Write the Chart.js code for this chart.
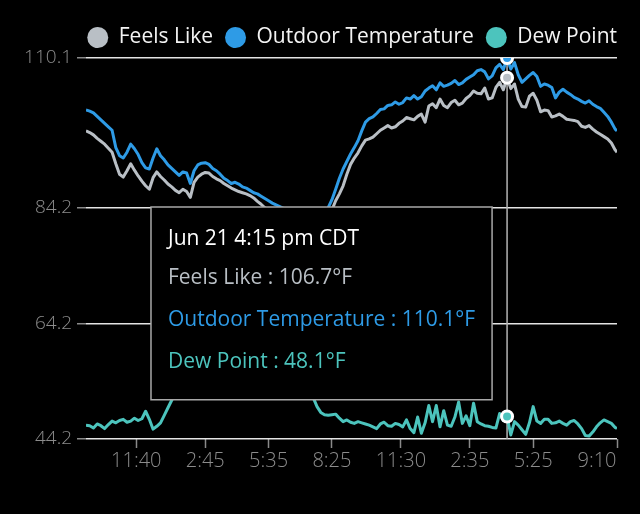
<!DOCTYPE html>
<html>
<head>
<meta charset="utf-8">
<script src="https://cdn.jsdelivr.net/npm/chart.js@4.4.0/dist/chart.umd.min.js"></script>
<style>
    html, body { margin: 0; padding: 0; background: #000; }
    #wrap { width: 640px; height: 514px; position: relative; background: #000; }
</style>
</head>
<body>
<div id="wrap"><canvas id="weatherChart"></canvas></div>
<script>
// minutes since Jun 20 9:25 pm CDT, sampled every 10 min, last sample at 9:10 pm
const startClock = 21 * 60 + 25;
const times = [];
for (let i = 0; i <= 142; i++) times.push(i * 10);
times.push(1425);

const seriesNames = ["Feels Like", "Outdoor Temperature", "Dew Point"];
const seriesColors = ["#b9bfc5", "#2e9be6", "#4cc4bd"];

const feelsLike = [
    97.5, 97.2, 96.8, 96.2, 95.7, 95.2,
    94.5, 93.8, 91.8, 90.0, 89.5, 90.6,
    91.8, 90.7, 89.7, 88.8, 88.0, 87.4,
    89.4, 90.4, 89.6, 89.0, 88.3, 87.8,
    87.2, 86.8, 87.4, 87.0, 86.0, 88.6,
    89.5, 90.0, 90.3, 90.2, 89.6, 89.2,
    88.9, 88.4, 88.0, 87.6, 87.3, 87.0,
    86.8, 86.6, 86.3, 85.9, 85.3, 84.8,
    84.2, 83.8, 83.4, 83.0, 82.6, 82.2,
    81.7, 81.2, 80.7, 80.2, 79.7, 79.2,
    79.0, 79.1, 79.6, 80.6, 81.8, 83.0,
    83.8, 85.4, 86.6, 88.0, 90.0, 91.7,
    92.8, 93.7, 94.9, 95.9, 96.1, 96.4,
    97.0, 97.6, 98.0, 98.4, 98.0, 98.2,
    98.8, 99.2, 99.8, 99.6, 99.4, 100.0,
    100.4, 99.0, 101.8, 102.2, 101.5, 103.0,
    101.9, 101.5, 102.4, 102.8, 102.0, 102.3,
    103.1, 103.6, 104.4, 104.0, 103.9, 104.9,
    103.0, 103.2, 105.0, 105.9, 104.6, 106.7,
    104.8, 105.6, 103.0, 101.7, 101.6, 103.5,
    104.0, 102.8, 100.8, 101.1, 101.0, 99.9,
    100.1, 100.4, 100.0, 99.5, 99.4, 99.3,
    99.1, 98.3, 98.1, 98.4, 97.8, 97.3,
    96.9, 96.5, 96.1, 95.4, 94.2, 93.8
];

const outdoorTemp = [
    101.1, 100.9, 100.6, 100.0, 99.4, 98.8,
    98.2, 97.6, 94.6, 93.2, 92.8, 93.8,
    95.2, 94.4, 93.4, 92.0, 91.1, 90.9,
    92.8, 94.4, 93.2, 92.5, 91.6, 91.0,
    90.4, 89.8, 90.4, 90.2, 88.4, 90.6,
    91.6, 91.9, 92.0, 91.7, 91.0, 90.6,
    90.0, 89.3, 88.9, 88.4, 88.6, 88.3,
    87.8, 87.6, 87.2, 86.8, 86.6, 86.2,
    85.8, 85.4, 85.0, 84.7, 84.4, 84.1,
    83.6, 83.0, 82.4, 81.8, 81.2, 80.6,
    80.3, 80.4, 81.0, 82.0, 83.2, 84.2,
    85.6, 87.4, 89.3, 90.9, 92.2, 93.5,
    94.6, 95.8, 97.5, 99.0, 99.6, 99.9,
    100.5, 101.2, 101.3, 101.9, 102.0, 102.5,
    102.1, 102.4, 103.2, 103.0, 103.6, 103.0,
    103.4, 104.4, 104.9, 105.3, 104.6, 105.8,
    105.2, 105.4, 105.7, 106.2, 105.5, 105.8,
    106.4, 106.8, 107.2, 107.9, 108.1, 107.7,
    106.5, 107.0, 108.4, 109.0, 108.1, 110.1,
    108.2, 109.3, 107.2, 105.9, 106.5, 107.1,
    107.6, 106.9, 105.2, 105.6, 105.4, 105.0,
    103.2, 104.2, 104.7, 104.2, 103.8, 103.3,
    103.0, 102.6, 102.3, 102.7, 102.1, 101.7,
    101.4, 100.7, 100.0, 99.0, 97.8, 97.5
];

const dewPoint = [
    46.6, 46.5, 46.1, 46.8, 46.5, 46.0,
    46.7, 47.3, 47.0, 47.4, 47.6, 47.1,
    47.3, 47.8, 47.4, 47.7, 49.0, 47.6,
    45.9, 46.4, 47.0, 48.3, 49.6, 50.9,
    52.2, 53.4, 54.3, 55.0, 55.5, 55.8,
    56.0, 55.8, 55.5, 55.9, 56.2, 55.7,
    55.2, 54.8, 54.4, 54.0, 53.6, 53.2,
    52.8, 52.5, 52.1, 51.8, 51.6, 51.5,
    52.0, 51.8, 51.9, 51.7, 51.8, 51.9,
    52.0, 52.2, 52.4, 52.3, 52.0, 51.8,
    51.6, 51.3, 49.8, 48.8, 48.4, 48.3,
    48.4, 48.5, 47.8, 47.2, 47.5, 47.1,
    46.9, 47.2, 47.0, 46.8, 46.6, 46.3,
    46.0, 46.8, 47.1, 46.5, 46.4, 46.9,
    46.7, 46.3, 47.5, 46.0, 45.3, 48.0,
    45.2, 47.0, 50.0, 47.2, 50.0, 46.3,
    49.1, 46.6, 46.4, 48.0, 50.6, 46.9,
    48.2, 46.5, 50.4, 47.2, 46.8, 46.5,
    46.4, 46.2, 46.1, 48.6, 47.4, 48.1,
    44.9, 47.2, 46.6, 45.8, 45.0, 47.0,
    49.8, 47.3, 46.9, 47.6, 47.6, 46.9,
    47.0, 47.3, 46.9, 46.6, 47.2, 47.4,
    46.8, 46.0, 44.8, 44.7, 45.4, 46.3,
    47.0, 47.5, 47.2, 46.9, 46.2, 46.0
];

const tickMinutes = [135, 320, 490, 660, 845, 1030, 1200, 1425];
const tickLabels = ["11:40", "2:45", "5:35", "8:25", "11:30", "2:35", "5:25", "9:10"];
const yTicks = [44.2, 64.2, 84.2, 110.1];
const hoverMinute = 1130;

const fontFamily = "'Open Sans', 'Noto Sans', sans-serif";
Chart.defaults.font.family = fontFamily;

function stampFor(minutes) {
    const total = startClock + minutes;
    const day = 20 + Math.floor(total / 1440);
    const clock = total % 1440;
    let h = Math.floor(clock / 60);
    const m = clock % 60;
    const ampm = h >= 12 ? "pm" : "am";
    h = h % 12 === 0 ? 12 : h % 12;
    return "Jun " + day + " " + h + ":" + String(m).padStart(2, "0") + " " + ampm + " CDT";
}

Chart.Tooltip.positioners.besidePoint = function (items) {
    if (!items.length) return false;
    const area = this.chart.chartArea;
    return {
        x: items[0].element.x,
        y: area.top + (area.bottom - area.top) * 0.644,
        xAlign: "right",
        yAlign: "center"
    };
};

const hoverLine = {
    id: "hoverLine",
    beforeDatasetsDraw(chart) {
        const act = chart.getActiveElements();
        if (!act.length) return;
        const x = act[0].element.x;
        const top = Math.min(...act.map(a => a.element.y));
        const ctx = chart.ctx;
        ctx.save();
        ctx.strokeStyle = "#b4b4b4";
        ctx.lineWidth = 1.5;
        ctx.beginPath();
        ctx.moveTo(x, top);
        ctx.lineTo(x, chart.chartArea.bottom);
        ctx.stroke();
        ctx.restore();
    }
};

function makeSet(i, values) {
    return {
        label: seriesNames[i],
        data: values,
        borderColor: seriesColors[i],
        backgroundColor: seriesColors[i],
        borderWidth: 3,
        borderJoinStyle: "round",
        pointRadius: 0,
        pointHoverRadius: 5.5,
        pointHoverBorderWidth: 3,
        pointHoverBorderColor: "#ffffff",
        pointHoverBackgroundColor: seriesColors[i],
        tension: 0
    };
}

const chart = new Chart(document.getElementById("weatherChart"), {
    type: "line",
    data: {
        labels: times,
        datasets: [
            makeSet(0, feelsLike),
            makeSet(1, outdoorTemp),
            makeSet(2, dewPoint)
        ]
    },
    options: {
        responsive: true,
        maintainAspectRatio: false,
        animation: false,
        events: [],
        layout: { padding: { top: 15, right: 11, left: 0, bottom: 0 } },
        scales: {
            x: {
                type: "linear",
                min: 0,
                max: 1425,
                afterBuildTicks(scale) {
                    scale.ticks = tickMinutes.map(v => ({ value: v }));
                },
                afterFit(scale) {
                    scale.height = 75;
                    scale.paddingRight = 23;
                },
                border: { display: false },
                grid: {
                    drawOnChartArea: false,
                    drawTicks: true,
                    tickLength: 9,
                    tickColor: "#8a8a8a",
                    tickWidth: 1.5
                },
                ticks: {
                    autoSkip: false,
                    maxRotation: 0,
                    color: "#8c8c8c",
                    font: { size: 20, weight: 300 },
                    padding: 1,
                    callback(value) {
                        const k = tickMinutes.indexOf(value);
                        if (k < 0) return "";
                        if (k === tickMinutes.length - 1) return tickLabels[k] + "\u2002\u2002\u2002\u2002";
                        return tickLabels[k];
                    }
                }
            },
            y: {
                min: yTicks[0],
                max: yTicks[yTicks.length - 1],
                afterBuildTicks(scale) {
                    scale.ticks = yTicks.map(v => ({ value: v }));
                },
                afterFit(scale) {
                    scale.width = 86;
                    scale.paddingTop = 57;
                },
                border: { display: false },
                grid: {
                    color: "#e4e4e4",
                    lineWidth: 1.5,
                    tickLength: 9,
                    tickColor: "#8a8a8a"
                },
                ticks: {
                    color: "#8c8c8c",
                    font: { size: 19, weight: 300 },
                    padding: 5,
                    callback(value) {
                        return Number(value).toFixed(1);
                    }
                }
            }
        },
        plugins: {
            legend: {
                position: "top",
                align: "end",
                labels: {
                    color: "#f4f4f4",
                    font: { size: 21 },
                    usePointStyle: true,
                    pointStyle: "circle",
                    boxHeight: 15,
                    pointStyleWidth: 21,
                    padding: 12,
                    generateLabels(ch) {
                        return Chart.defaults.plugins.legend.labels.generateLabels(ch).map(item => ({
                            ...item,
                            lineWidth: 0,
                            fillStyle: seriesColors[item.datasetIndex],
                            strokeStyle: seriesColors[item.datasetIndex]
                        }));
                    }
                }
            },
            tooltip: {
                enabled: true,
                position: "besidePoint",
                backgroundColor: "#000000",
                borderColor: "#a8a8a8",
                borderWidth: 1.5,
                cornerRadius: 0,
                caretSize: 0,
                caretPadding: 15,
                displayColors: false,
                titleColor: "#ffffff",
                titleFont: { size: 21, weight: "normal" },
                titleMarginBottom: 14,
                bodyFont: { size: 21 },
                bodySpacing: 17,
                padding: { top: 19, bottom: 25, left: 17, right: 17 },
                callbacks: {
                    title(items) {
                        return stampFor(items[0].parsed.x);
                    },
                    label(ctx) {
                        return ctx.dataset.label + " : " + ctx.parsed.y.toFixed(1) + "°F";
                    },
                    labelTextColor(ctx) {
                        return seriesColors[ctx.datasetIndex];
                    }
                }
            }
        }
    },
    plugins: [hoverLine]
});

const hoverIndex = times.indexOf(hoverMinute);
const active = [0, 1, 2].map(d => ({ datasetIndex: d, index: hoverIndex }));
chart.setActiveElements(active);
chart.tooltip.setActiveElements(active, { x: 0, y: 0 });
chart.render();
</script>
</body>
</html>
